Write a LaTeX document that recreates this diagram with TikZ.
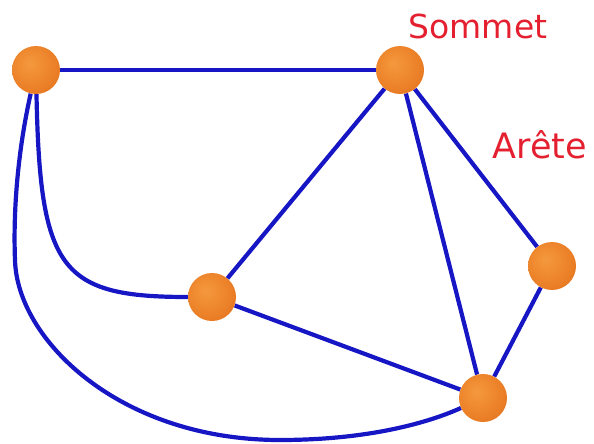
\documentclass[tikz,border=0pt]{standalone}
\usepackage{fontspec}
\setmainfont{DejaVu Sans}
\usetikzlibrary{backgrounds}
\pgfdeclareradialshading{orb}{\pgfpoint{-7bp}{7bp}}{%
  rgb(0bp)=(0.96,0.60,0.24);
  rgb(20bp)=(0.93,0.52,0.17);
  rgb(38bp)=(0.89,0.45,0.12);
  rgb(50bp)=(0.76,0.37,0.08);
  rgb(56bp)=(0.60,0.29,0.06);
  rgb(80bp)=(0.60,0.29,0.06)}
\definecolor{edgeblue}{RGB}{22,22,196}
\definecolor{lblred}{RGB}{228,32,48}
\tikzset{
  vertex/.style={circle, minimum width=46pt, minimum height=48pt, inner sep=0pt, shading=orb},
  edge/.style={draw=edgeblue, line width=4.2pt},
  lbl/.style={text=lblred, inner sep=0pt}
}
\begin{document}
\begin{tikzpicture}[x=1pt,y=-1pt]
\useasboundingbox (0,0) rectangle (594,444);
\node[vertex] (A) at (36,70) {};
\node[vertex] (B) at (400,70) {};
\node[vertex] (C) at (212,297) {};
\node[vertex] (D) at (552,266) {};
\node[vertex] (E) at (483,398) {};
\node[lbl, font=\fontsize{33}{33}\selectfont] (s) at (478,26) {Sommet};
\node[lbl, font=\fontsize{35}{35}\selectfont] (r) at (540,145) {Arête};
\begin{scope}[on background layer]
\draw[edge] (A) -- (B);
\draw[edge] (B) -- (C);
\draw[edge] (B) -- (D);
\draw[edge] (B) -- (E);
\draw[edge] (C) -- (E);
\draw[edge] (D) -- (E);
\draw[edge] (A) .. controls (40,270) and (60,297) .. (C);
\draw[edge] (A) .. controls (18,150) and (13,210) .. (15,260)
  .. controls (17,340) and (120,440) .. (280,440)
  .. controls (370,440) and (430,422) .. (E);
\end{scope}
\end{tikzpicture}
\end{document}
